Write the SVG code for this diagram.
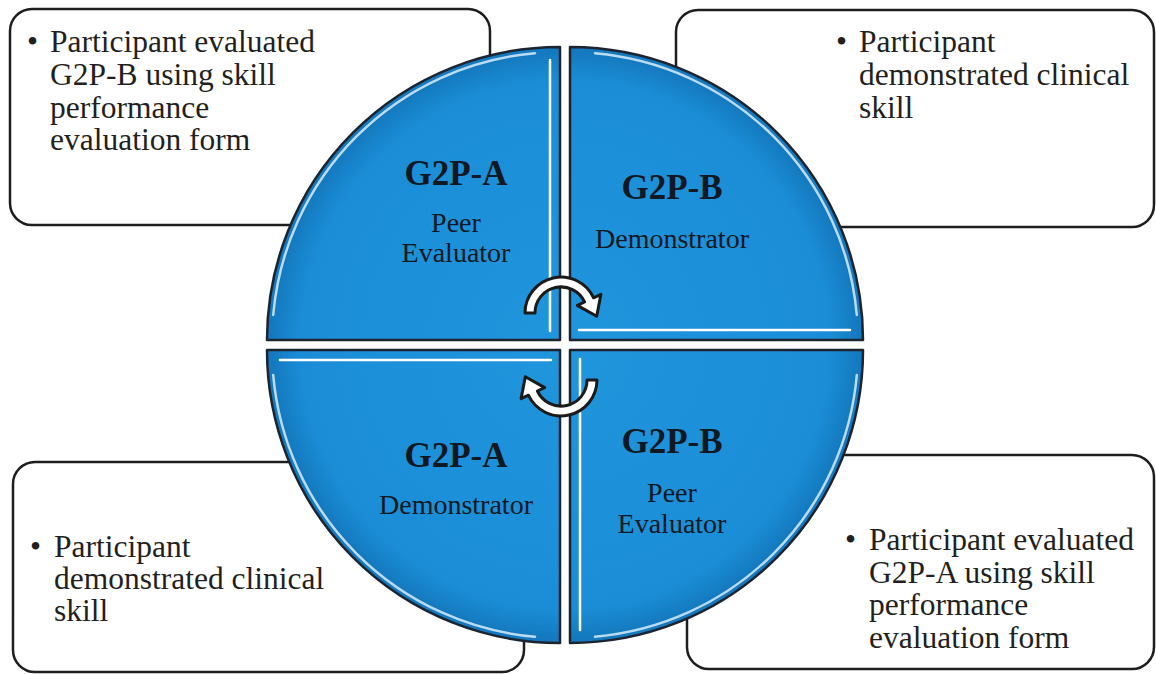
<svg xmlns="http://www.w3.org/2000/svg" xmlns:xlink="http://www.w3.org/1999/xlink" width="1156" height="674" viewBox="0 0 1156 674">
  <style>
    .box { fill: #ffffff; stroke: #1e1e1e; stroke-width: 2.5; }
    .note { font-family: "Liberation Serif", "Times New Roman", serif; font-size: 31.5px; fill: #231f20; }
    .title { font-family: "Liberation Serif", "Times New Roman", serif; font-size: 35px; font-weight: bold; fill: #111821; text-anchor: middle; }
    .role { font-family: "Liberation Serif", "Times New Roman", serif; font-size: 28px; fill: #111821; text-anchor: middle; }
    .quad { fill: url(#blueFill); stroke: #1b2430; stroke-width: 2.5; stroke-linejoin: round; }
    .shine { fill: none; stroke: #ffffff; stroke-width: 2.5; stroke-linecap: round; }
    .shine-soft { fill: none; stroke: #e4f4ff; stroke-width: 2.5; stroke-linecap: round; opacity: 0.8; }
    .cycle { fill: #ffffff; stroke: #1a1a1a; stroke-width: 3; stroke-linejoin: round; }
  </style>
  <defs>
    <radialGradient id="blueFill" gradientUnits="userSpaceOnUse" cx="565" cy="345" r="294">
      <stop offset="0" stop-color="#2096dd"/>
      <stop offset="0.9" stop-color="#1a8dd6"/>
      <stop offset="1" stop-color="#1479be"/>
    </radialGradient>
    <!-- one quarter of the disc, drawn in the top-left position -->
    <g id="quarter">
      <path class="quad" d="M560,340 L560,47 A293,293 0 0 0 267,340 Z"/>
      <path class="shine-soft" d="M535,53.2 A288,288 0 0 0 273.2,315"/>
      <path class="shine" d="M550,60 L550,331"/>
    </g>
    <!-- clockwise cycle arrow, upper position -->
    <path id="cycleArrow" class="cycle" d="M525,313 A36,36 0 0 1 593.6,297.8 L600.9,294.4 L596.7,316.2 L577.3,305.4 L584.6,302 A26,26 0 0 0 535,313 Z"/>
  </defs>

  <rect width="1156" height="674" fill="#ffffff"/>

  <!-- note boxes behind the disc -->
  <g id="note-top-left">
    <rect class="box" x="10" y="9" width="480" height="216" rx="22"/>
    <text class="note" x="27" y="52">•</text>
    <text class="note" x="50" y="52">Participant evaluated</text>
    <text class="note" x="50" y="85">G2P-B using skill</text>
    <text class="note" x="50" y="118">performance</text>
    <text class="note" x="50" y="150">evaluation form</text>
  </g>
  <g id="note-top-right">
    <rect class="box" x="676" y="10" width="478" height="217" rx="22"/>
    <text class="note" x="836" y="52">•</text>
    <text class="note" x="859" y="52">Participant</text>
    <text class="note" x="859" y="85">demonstrated clinical</text>
    <text class="note" x="859" y="118">skill</text>
  </g>
  <g id="note-bottom-left">
    <rect class="box" x="13" y="462" width="511" height="210" rx="22"/>
    <text class="note" x="30" y="557">•</text>
    <text class="note" x="54" y="557">Participant</text>
    <text class="note" x="54" y="589">demonstrated clinical</text>
    <text class="note" x="54" y="621">skill</text>
  </g>
  <g id="note-bottom-right">
    <rect class="box" x="687" y="455" width="467" height="214" rx="22"/>
    <text class="note" x="845" y="550">•</text>
    <text class="note" x="869" y="550">Participant evaluated</text>
    <text class="note" x="869" y="583">G2P-A using skill</text>
    <text class="note" x="869" y="615">performance</text>
    <text class="note" x="869" y="648">evaluation form</text>
  </g>

  <!-- four quarters of the disc -->
  <g id="quad-a-evaluator">
    <use xlink:href="#quarter"/>
    <text class="title" x="456" y="185">G2P-A</text>
    <text class="role" x="456" y="232">Peer</text>
    <text class="role" x="456" y="262">Evaluator</text>
  </g>
  <g id="quad-b-demonstrator">
    <use xlink:href="#quarter" transform="rotate(90 565 345)"/>
    <text class="title" x="672" y="199">G2P-B</text>
    <text class="role" x="672" y="248">Demonstrator</text>
  </g>
  <g id="quad-b-evaluator">
    <use xlink:href="#quarter" transform="rotate(180 565 345)"/>
    <text class="title" x="672" y="453">G2P-B</text>
    <text class="role" x="672" y="502">Peer</text>
    <text class="role" x="672" y="533">Evaluator</text>
  </g>
  <g id="quad-a-demonstrator">
    <use xlink:href="#quarter" transform="rotate(270 565 345)"/>
    <text class="title" x="456" y="467">G2P-A</text>
    <text class="role" x="456" y="514">Demonstrator</text>
  </g>

  <!-- role-swap cycle arrows at the centre -->
  <g id="connectors">
    <use xlink:href="#cycleArrow"/>
    <use xlink:href="#cycleArrow" transform="rotate(180 561 346.5)"/>
  </g>
</svg>
